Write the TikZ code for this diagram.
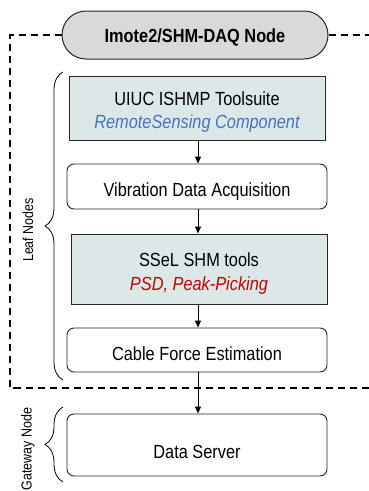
\documentclass[tikz,border=0pt]{standalone}
\usepackage{fontspec}
\setmainfont{Liberation Sans}[FakeStretch=0.86]
\usetikzlibrary{arrows.meta,decorations.pathreplacing}
\definecolor{boxfill}{HTML}{DCE8E8}
\definecolor{pillfill}{HTML}{D9D9D9}
\definecolor{bluetxt}{HTML}{4472C4}
\definecolor{redtxt}{HTML}{C00000}
\tikzset{
  base/.style={draw=black!85, line width=0.9pt, inner sep=0pt, align=center,
    font=\fontsize{19}{23}\selectfont},
  toolbox/.style={base, fill=boxfill, rectangle},
  procbox/.style={base, fill=white, rounded corners=7pt},
  pill/.style={base, fill=pillfill, rounded corners=24pt, line width=1pt,
    font=\fontsize{19}{23}\selectfont\bfseries},
  arr/.style={-{Triangle[width=6pt,length=7pt]}, line width=1pt},
  dashline/.style={line width=2pt, dash pattern=on 7pt off 5pt},
  bracestyle/.style={decorate, decoration={brace, amplitude=18pt}, line width=0.8pt},
  sidelabel/.style={rotate=90, inner sep=0pt, font=\fontsize{14.5}{17}\selectfont}
}
\begin{document}
\begin{tikzpicture}[x=1pt,y=-1pt]
\useasboundingbox (0,0) rectangle (368,491);
\coordinate (ax) at (198,0);
\coordinate (dl) at (10,35);
\coordinate (dr) at (370,35);
\coordinate (db) at (10,388);
\coordinate (dbr) at (370,388);
% dashed enclosure
\node[pill, minimum width=266pt, minimum height=48pt, text height=15.4pt, text depth=0pt] (pill) at (195,35) {Imote2/SHM-DAQ Node};
\draw[dashline] (pill.west) -- (dl) -- (db) -- (dbr);
\draw[dashline] (pill.east) -- (dr);
% boxes
\node[toolbox, minimum width=256pt, minimum height=64pt, text height=40pt, text depth=0pt] (b1) at (197,108)
  {UIUC ISHMP Toolsuite\\ \textcolor{bluetxt}{\itshape RemoteSensing Component}};
\node[procbox, minimum width=260pt, minimum height=45pt, text height=19pt, text depth=0pt] (b2) at (197,186.5)
  {Vibration Data Acquisition};
\node[toolbox, minimum width=256pt, minimum height=70pt, text height=43.4pt, text depth=0pt,
  font=\fontsize{19}{24}\selectfont] (b3) at (199,269)
  {SSeL SHM tools\\ \textcolor{redtxt}{\itshape PSD, Peak-Picking}};
\node[procbox, minimum width=260pt, minimum height=44pt, text height=21pt, text depth=0pt] (b4) at (197,350)
  {Cable Force Estimation};
\node[procbox, minimum width=260pt, minimum height=62pt, text height=26pt, text depth=0pt] (b5) at (197,445)
  {Data Server};
% arrows
\draw[arr] (b1.south -| ax) -- (b2.north -| ax);
\draw[arr] (b2.south -| ax) -- (b3.north -| ax);
\draw[arr] (b3.south -| ax) -- (b4.north -| ax);
\draw[arr] (b4.south -| ax) -- (b5.north -| ax);
% braces
\coordinate (lb1) at (63,380);
\coordinate (lb2) at (63,72);
\coordinate (gb1) at (63,482);
\coordinate (gb2) at (63,407);
\draw[bracestyle] (lb1) -- (lb2);
\draw[bracestyle] (gb1) -- (gb2);
\node[sidelabel] (leaf) at (28,230) {Leaf Nodes};
\node[sidelabel] (gate) at (28,449) {Gateway Node};
\end{tikzpicture}
\end{document}
